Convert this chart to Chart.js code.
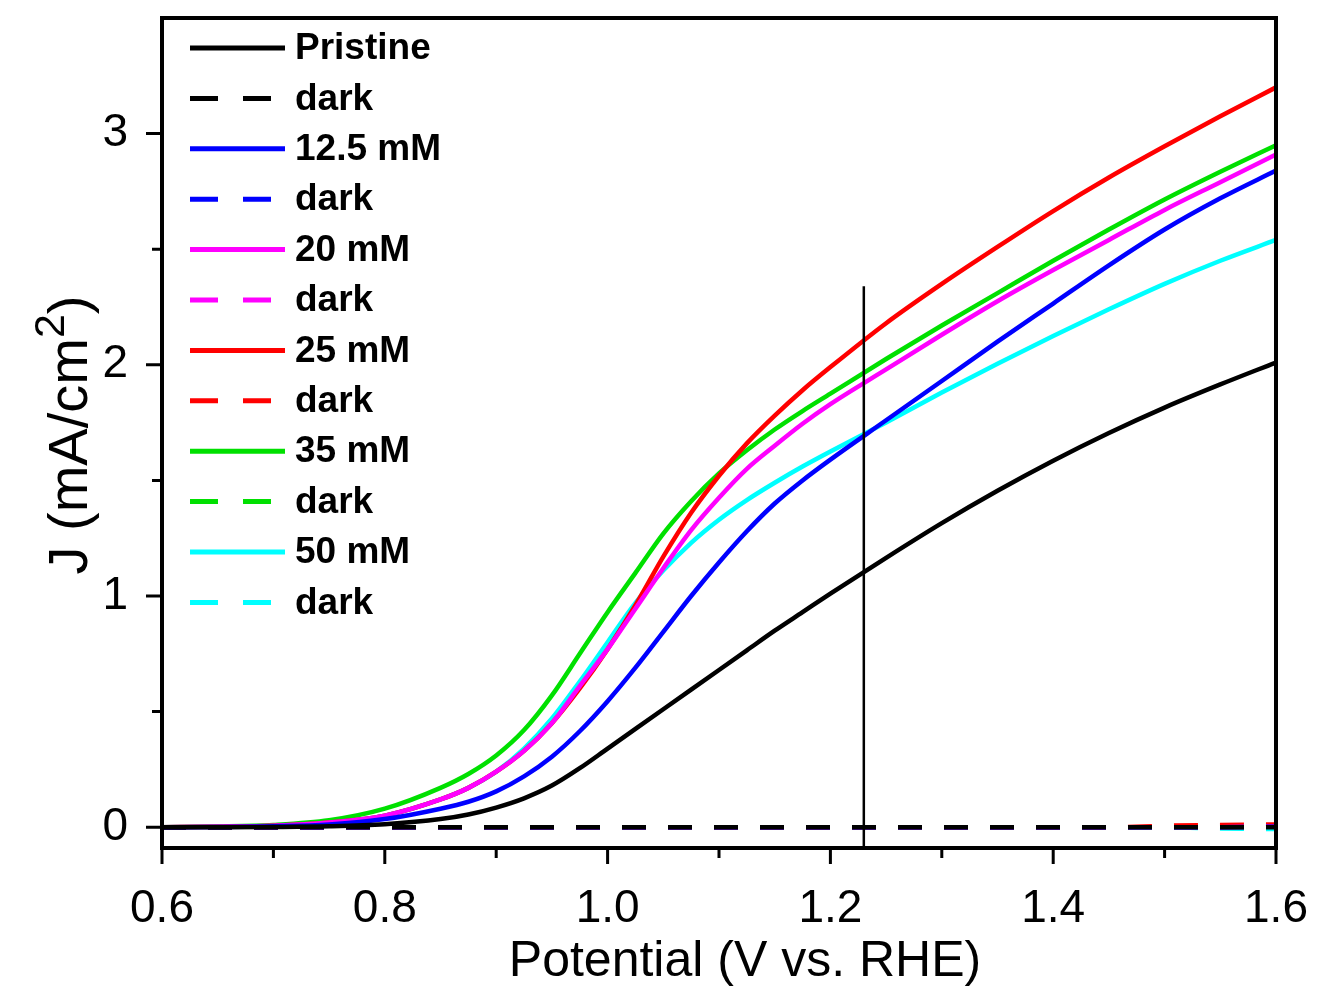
<!DOCTYPE html>
<html>
<head>
<meta charset="utf-8">
<title>J-V curves</title>
<script src="https://cdn.jsdelivr.net/npm/chart.js@4.4.0/dist/chart.umd.min.js"></script>
<style>
    html, body { margin: 0; padding: 0; background: #ffffff; }
    #wrap { width: 1317px; height: 992px; }
</style>
</head>
<body>
<div id="wrap"><canvas id="jvChart" width="1317" height="992"></canvas></div>
<script>
// potential (V vs. RHE)
var potential = [0.60, 0.65, 0.70, 0.75, 0.80, 0.85, 0.875, 0.90, 0.925, 0.95, 0.975,
                 1.00, 1.025, 1.05, 1.075, 1.10, 1.125, 1.15, 1.175, 1.20, 1.25,
                 1.30, 1.35, 1.40, 1.45, 1.50, 1.55, 1.60];

// photocurrent density (mA/cm2)
var pristine = [0, 0, 0.001, 0.004, 0.013, 0.035, 0.055, 0.085, 0.125, 0.18, 0.255,
                0.34, 0.425, 0.51, 0.595, 0.68, 0.765, 0.85, 0.93, 1.01, 1.165,
                1.315, 1.455, 1.585, 1.705, 1.815, 1.915, 2.01];
var mM12_5 = [0, 0.001, 0.004, 0.012, 0.035, 0.08, 0.11, 0.155, 0.22, 0.305, 0.415,
              0.545, 0.69, 0.845, 1.0, 1.145, 1.28, 1.40, 1.50, 1.59, 1.76,
              1.93, 2.10, 2.265, 2.43, 2.585, 2.72, 2.84];
var mM20 = [0, 0.002, 0.006, 0.02, 0.05, 0.12, 0.17, 0.24, 0.33, 0.45, 0.61,
            0.77, 0.945, 1.12, 1.285, 1.425, 1.55, 1.65, 1.745, 1.83, 1.98,
            2.13, 2.275, 2.41, 2.54, 2.67, 2.79, 2.91];
var mM25 = [0, 0.002, 0.006, 0.02, 0.05, 0.12, 0.17, 0.24, 0.33, 0.45, 0.60,
            0.77, 0.96, 1.17, 1.36, 1.52, 1.66, 1.78, 1.89, 1.99, 2.18,
            2.35, 2.51, 2.665, 2.81, 2.945, 3.075, 3.20];
var mM35 = [0, 0.003, 0.01, 0.03, 0.08, 0.17, 0.23, 0.31, 0.42, 0.57, 0.75,
            0.93, 1.10, 1.27, 1.41, 1.53, 1.63, 1.72, 1.80, 1.875, 2.025,
            2.17, 2.31, 2.45, 2.585, 2.715, 2.835, 2.95];
var mM50 = [0, 0.002, 0.006, 0.02, 0.05, 0.12, 0.17, 0.24, 0.34, 0.47, 0.63,
            0.80, 0.97, 1.11, 1.23, 1.33, 1.415, 1.49, 1.56, 1.625, 1.75,
            1.88, 2.005, 2.125, 2.24, 2.35, 2.45, 2.54];

// dark currents
var darkPristine = [0, 0, 0, 0, 0, 0, 0, 0, 0, 0, 0, 0, 0, 0, 0, 0, 0, 0, 0, 0, 0,
                    0, 0, 0, 0, 0, 0, 0];
var dark12_5 = [0, 0, 0, 0, 0, 0, 0, 0, 0, 0, 0, 0, 0, 0, 0, 0, 0, 0, 0, 0, 0,
                0, 0, 0, 0, 0, 0, 0.002];
var dark20 = [0, 0, 0, 0, 0, 0, 0, 0, 0, 0, 0, 0, 0, 0, 0, 0, 0, 0, 0, 0, 0,
              0, 0, 0, 0, 0, 0, 0.002];
var dark25 = [0, 0, 0, 0, 0, 0, 0, 0, 0, 0, 0, 0, 0, 0, 0, 0, 0, 0, 0, 0, 0,
              0, 0, 0, 0, 0.006, 0.01, 0.012];
var dark35 = [0, 0, 0, 0, 0, 0, 0, 0, 0, 0, 0, 0, 0, 0, 0, 0, 0, 0, 0, 0, 0,
              0, 0, 0, 0, 0, 0, 0.004];
var dark50 = [0, 0, 0, 0, 0, 0, 0, 0, 0, 0, 0, 0, 0, 0, 0, 0, 0, 0, 0, 0, 0,
              0, 0, 0, 0, 0, -0.006, -0.008];

// 1.23 V marker line
var markerPotential = [1.23, 1.23];
var markerCurrent = [-0.09, 2.34];

var seriesNames = ['Pristine', 'dark', '12.5 mM', 'dark', '20 mM', 'dark',
                   '25 mM', 'dark', '35 mM', 'dark', '50 mM', 'dark'];
var seriesValues = [pristine, darkPristine, mM12_5, dark12_5, mM20, dark20,
                    mM25, dark25, mM35, dark35, mM50, dark50];
var seriesColors = ['#000000', '#000000', '#0000ff', '#0000ff', '#ff00ff', '#ff00ff',
                    '#ff0000', '#ff0000', '#00e000', '#00e000', '#00ffff', '#00ffff'];

var xMajorTicks = [0.6, 0.8, 1.0, 1.2, 1.4, 1.6];
var xMinorTicks = [0.7, 0.9, 1.1, 1.3, 1.5];
var yMajorTicks = [0, 1, 2, 3];
var yMinorTicks = [0.5, 1.5, 2.5];

function toPoints(xs, ys) {
    return xs.map(function (x, i) { return { x: x, y: ys[i] }; });
}

var datasets = seriesValues.map(function (vals, i) {
    var isDark = i % 2 === 1;
    return {
        label: seriesNames[i],
        data: toPoints(potential, vals),
        borderColor: seriesColors[i],
        borderWidth: 4.5,
        borderDash: isDark ? [24, 22] : [],
        pointRadius: 0,
        fill: false,
        cubicInterpolationMode: 'monotone'
    };
});

datasets.push({
    label: 'marker',
    data: toPoints(markerPotential, markerCurrent),
    borderColor: '#000000',
    borderWidth: 2.5,
    pointRadius: 0,
    order: -1
});

var framePlugin = {
    id: 'frame',
    afterDraw: function (chart) {
        var ctx = chart.ctx;
        var a = chart.chartArea;
        var xs = chart.scales.x, ys = chart.scales.y;
        ctx.save();

        // ticks
        ctx.strokeStyle = '#000';
        ctx.lineWidth = 3;
        ctx.beginPath();
        xMajorTicks.forEach(function (v) {
            var p = xs.getPixelForValue(v);
            ctx.moveTo(p, a.bottom); ctx.lineTo(p, a.bottom + 16);
        });
        xMinorTicks.forEach(function (v) {
            var p = xs.getPixelForValue(v);
            ctx.moveTo(p, a.bottom); ctx.lineTo(p, a.bottom + 10);
        });
        yMajorTicks.forEach(function (v) {
            var p = ys.getPixelForValue(v);
            ctx.moveTo(a.left, p); ctx.lineTo(a.left - 16, p);
        });
        yMinorTicks.forEach(function (v) {
            var p = ys.getPixelForValue(v);
            ctx.moveTo(a.left, p); ctx.lineTo(a.left - 10, p);
        });
        ctx.stroke();

        // frame
        ctx.lineWidth = 4;
        ctx.strokeRect(a.left, a.top, a.right - a.left, a.bottom - a.top);

        // legend
        ctx.textBaseline = 'middle';
        ctx.textAlign = 'left';
        ctx.font = 'bold 37px "Liberation Sans", Arial, sans-serif';
        for (var i = 0; i < seriesNames.length; i++) {
            var y = 48 + i * 50.4;
            var isDark = i % 2 === 1;
            ctx.strokeStyle = seriesColors[i];
            ctx.lineWidth = 5;
            ctx.setLineDash(isDark ? [28, 25] : []);
            ctx.beginPath();
            ctx.moveTo(190, y); ctx.lineTo(285, y);
            ctx.stroke();
            ctx.setLineDash([]);
            ctx.fillStyle = '#000';
            ctx.fillText(seriesNames[i], 295, y + 1);
        }

        // axis titles
        ctx.fillStyle = '#000';
        ctx.textAlign = 'center';
        ctx.font = '50px "Liberation Sans", Arial, sans-serif';
        ctx.fillText('Potential (V vs. RHE)', 745, 962);

        ctx.translate(72, 435);
        ctx.rotate(-Math.PI / 2);
        var mainFont = '56px "Liberation Sans", Arial, sans-serif';
        var supFont = '43px "Liberation Sans", Arial, sans-serif';
        ctx.font = mainFont;
        var w1 = ctx.measureText('J (mA/cm').width;
        var w3 = ctx.measureText(')').width;
        ctx.font = supFont;
        var w2 = ctx.measureText('2').width;
        var x0 = -(w1 + w2 + w3) / 2;
        ctx.textAlign = 'left';
        ctx.font = mainFont;
        ctx.fillText('J (mA/cm', x0, 0);
        ctx.font = supFont;
        ctx.fillText('2', x0 + w1, -20);
        ctx.font = mainFont;
        ctx.fillText(')', x0 + w1 + w2, 0);
        ctx.restore();
    }
};

var ctx = document.getElementById('jvChart').getContext('2d');

var chart = new Chart(ctx, {
    type: 'line',
    data: { datasets: datasets },
    options: {
        responsive: false,
        animation: false,
        layout: { padding: { top: 18, right: 41, left: 0, bottom: 0 } },
        plugins: {
            legend: { display: false },
            tooltip: { enabled: false }
        },
        scales: {
            x: {
                type: 'linear',
                min: 0.6,
                max: 1.6,
                grid: { display: false },
                border: { display: false },
                afterBuildTicks: function (scale) {
                    scale.ticks = xMajorTicks.map(function (v) { return { value: v }; });
                },
                afterFit: function (scale) {
                    scale.height = 144;
                    scale.paddingLeft = 0;
                    scale.paddingRight = 0;
                },
                ticks: {
                    padding: 26,
                    color: '#000',
                    maxRotation: 0,
                    font: { family: '"Liberation Sans", Arial, sans-serif', size: 46 },
                    callback: function (v) { return Number(v).toFixed(1); }
                }
            },
            y: {
                type: 'linear',
                min: -0.09,
                max: 3.5,
                grid: { display: false },
                border: { display: false },
                afterBuildTicks: function (scale) {
                    scale.ticks = yMajorTicks.map(function (v) { return { value: v }; });
                },
                afterFit: function (scale) {
                    scale.width = 162;
                    scale.paddingTop = 0;
                    scale.paddingBottom = 0;
                },
                ticks: {
                    padding: 26,
                    color: '#000',
                    font: { family: '"Liberation Sans", Arial, sans-serif', size: 46 },
                    callback: function (v) { return String(v); }
                }
            }
        }
    },
    plugins: [framePlugin]
});
</script>
</body>
</html>
